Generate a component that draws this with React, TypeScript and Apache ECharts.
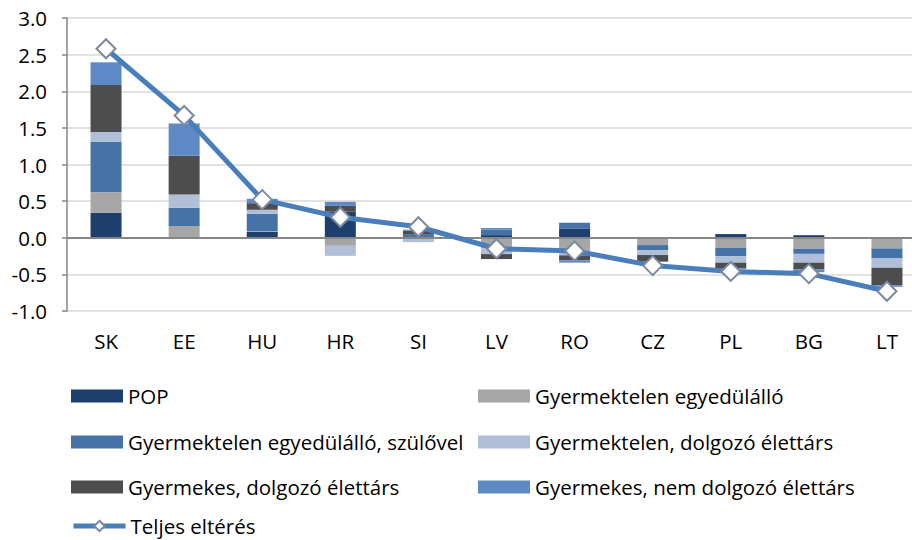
import React, { useEffect, useRef } from "react";
import * as echarts from "echarts";

const categories = ["SK", "EE", "HU", "HR", "SI", "LV", "RO", "CZ", "PL", "BG", "LT"];
const popValues = [0.34, 0, 0.08, 0.355, 0.02, 0.036, 0.128, 0, 0.05, 0.035, 0];
const singleValues = [0.28, 0.16, 0.01, -0.11, -0.01, -0.146, -0.2, -0.1, -0.14, -0.15, -0.146];
const singleParentsValues = [0.69, 0.25, 0.237, 0, 0.03, 0.077, 0.077, -0.068, -0.11, -0.07, -0.137];
const childlessPartnerValues = [0.135, 0.18, 0.055, -0.137, -0.05, -0.077, -0.04, -0.068, -0.09, -0.12, -0.127];
const childPartnerValues = [0.64, 0.53, 0.09, 0.08, 0.05, -0.068, -0.07, -0.09, -0.08, -0.09, -0.237];
const childNonWorkingValues = [0.31, 0.44, 0.06, 0.055, 0.01, 0.02, -0.03, 0, -0.01, -0.04, -0.023];
const totalValues = [2.58, 1.67, 0.52, 0.28, 0.15, -0.15, -0.18, -0.38, -0.46, -0.49, -0.73];

const seriesNames = [
  "POP",
  "Gyermektelen egyedülálló",
  "Gyermektelen egyedülálló, szülővel",
  "Gyermektelen, dolgozó élettárs",
  "Gyermekes, dolgozó élettárs",
  "Gyermekes, nem dolgozó élettárs",
];
const lineName = "Teljes eltérés";
const seriesColors = ["#1e3f6d", "#a6a6a6", "#4573a8", "#aebfd7", "#4d4d4d", "#5d8ac4"];
const FONT = "'Open Sans', Lato, sans-serif";

export default function App() {
  const ref = useRef<HTMLDivElement>(null);
  useEffect(() => {
    if (!ref.current) return;
    const chart = echarts.init(ref.current, undefined, { renderer: "svg" });
    const barData = [
      popValues,
      singleValues,
      singleParentsValues,
      childlessPartnerValues,
      childPartnerValues,
      childNonWorkingValues,
    ];
    const barSeries: any[] = barData.map((d, i) => ({
      name: seriesNames[i],
      type: "bar",
      stack: "total",
      data: d,
      barWidth: 31,
      itemStyle: { color: seriesColors[i] },
      ...(i === 0
        ? {
            markLine: {
              silent: true,
              symbol: "none",
              label: { show: false },
              lineStyle: { color: "#868686", width: 2, type: "solid" },
              data: [{ yAxis: 0 }],
            },
          }
        : {}),
    }));
    const legendPos = [
      [71, 396],
      [478, 396],
      [71, 442],
      [478, 442],
      [71, 487],
      [478, 487],
      [71, 526],
    ];
    const allNames = [...seriesNames, lineName];
    const legends = allNames.map((n, i) => ({
      data: [n],
      left: legendPos[i][0],
      top: legendPos[i][1] - 11,
      padding: 0,
      itemWidth: 52,
      itemHeight: 13,
      icon: i < 6 ? "rect" : undefined,
      ...(i === 6 ? { lineStyle: { width: 5, color: "#4a7ebb" } } : {}),
      textStyle: { fontFamily: FONT, fontSize: 20.5, lineHeight: 22, color: "#000" },
    }));
    chart.setOption({
      animation: false,
      textStyle: { fontFamily: FONT },
      legend: legends,
      grid: { left: 67, top: 18, right: 0, height: 293, containLabel: false },
      xAxis: {
        type: "category",
        data: categories,
        axisLine: { show: false },
        axisTick: { show: false },
        axisLabel: { fontSize: 20.5, color: "#000", margin: 19, fontFamily: FONT },
      },
      yAxis: {
        type: "value",
        min: -1,
        max: 3,
        interval: 0.5,
        axisLine: { show: true, lineStyle: { color: "#868686", width: 1.5 } },
        axisTick: { show: true, length: 5, lineStyle: { color: "#868686", width: 1.5 } },
        splitLine: { show: true, lineStyle: { color: "#d9d9d9", width: 1.5 } },
        axisLabel: {
          fontSize: 20.5,
          color: "#000",
          margin: 20,
          fontFamily: FONT,
          formatter: (v: number) => v.toFixed(1),
        },
      },
      series: [
        ...barSeries,
        {
          name: lineName,
          type: "line",
          data: totalValues,
          symbol: "diamond",
          symbolSize: 19,
          lineStyle: { color: "#4a7ebb", width: 5 },
          itemStyle: { color: "#ffffff", borderColor: "#7c88a2", borderWidth: 2 },
          z: 5,
        },
      ],
    });
    return () => chart.dispose();
  }, []);
  return (
    <div
      style={{ position: "fixed", left: 0, top: 0, width: 912, height: 540, overflow: "hidden", background: "#fff" }}
    >
      <div ref={ref} style={{ position: "absolute", left: 0, top: 0, width: 926, height: 540 }} />
    </div>
  );
}
